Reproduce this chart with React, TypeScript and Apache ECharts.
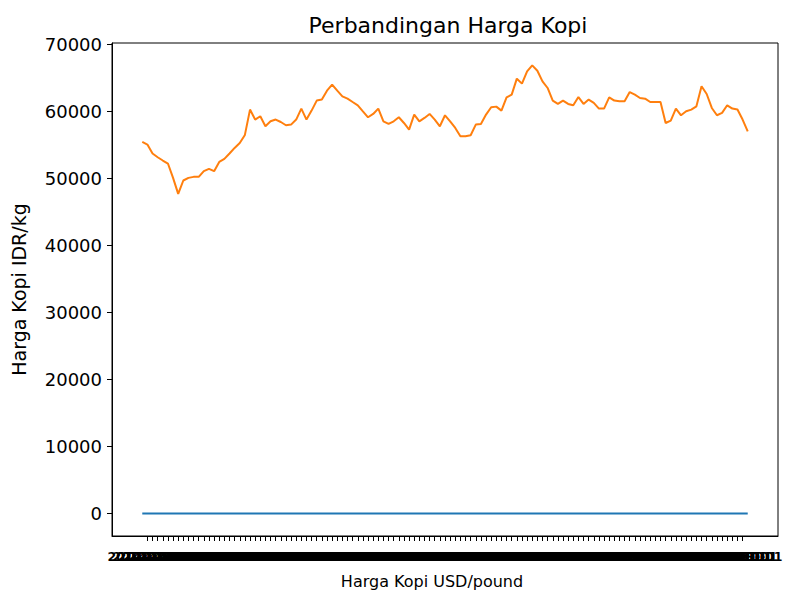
import React, { useEffect, useRef } from "react";
import * as echarts from "echarts";

const titleText = "Perbandingan Harga Kopi";
const xName = "Harga Kopi USD/pound";
const yName = "Harga Kopi IDR/kg";

const idrPerKg: number[] = [
  55450, 55060, 53720, 53170, 52680, 52230, 50090, 47700, 49700, 50090,
  50240, 50240, 51090, 51430, 51090, 52470, 52920, 53720, 54560, 55300,
  56500, 60280, 58790, 59280, 57790, 58530, 58790, 58430, 57940, 58040,
  58790, 60430, 58790, 60130, 61620, 61770, 63100, 64000, 63100, 62260,
  61910, 61410, 60920, 60020, 59130, 59630, 60430, 58530, 58140, 58530,
  59130, 58280, 57290, 59530, 58530, 59030, 59630, 58790, 57790, 59430,
  58530, 57540, 56300, 56300, 56450, 58040, 58140, 59530, 60620, 60720,
  60130, 62110, 62510, 64890, 64150, 65980, 66870, 66080, 64490, 63500,
  61620, 61120, 61620, 61120, 60920, 62150, 61120, 61770, 61270, 60430,
  60430, 62110, 61620, 61510, 61510, 62900, 62510, 62010, 61910, 61410,
  61410, 61410, 58280, 58640, 60430, 59430, 60020, 60280, 60770, 63750,
  62600, 60520, 59430, 59780, 60920, 60430, 60280, 58790, 57040,
];

const usdPerPound: number[] = [
  1.85, 1.84, 1.79, 1.77, 1.76, 1.74, 1.67, 1.59, 1.66, 1.67,
  1.67, 1.67, 1.7, 1.71, 1.7, 1.75, 1.76, 1.79, 1.82, 1.84,
  1.88, 2.01, 1.96, 1.98, 1.93, 1.95, 1.96, 1.95, 1.93, 1.93,
  1.96, 2.01, 1.96, 2.0, 2.05, 2.06, 2.1, 2.13, 2.1, 2.08,
  2.06, 2.05, 2.03, 2.0, 1.97, 1.99, 2.01, 1.95, 1.94, 1.95,
  1.97, 1.94, 1.91, 1.98, 1.95, 1.97, 1.99, 1.96, 1.93, 1.98,
  1.95, 1.92, 1.88, 1.88, 1.88, 1.93, 1.94, 1.98, 2.02, 2.02,
  2.0, 2.07, 2.08, 2.16, 2.14, 2.2, 2.23, 2.2, 2.15, 2.12,
  2.05, 2.04, 2.05, 2.04, 2.03, 2.07, 2.04, 2.06, 2.04, 2.01,
  2.01, 2.07, 2.05, 2.05, 2.05, 2.1, 2.08, 2.07, 2.06, 2.05,
  2.05, 2.05, 1.94, 1.95, 2.01, 1.98, 2.0, 2.01, 2.03, 2.13,
  2.09, 2.02, 1.98, 1.99, 2.03, 2.01, 2.01, 1.96, 1.9,
];

// monthly date tick labels (overlapping in the original)
const dateLabels: string[] = idrPerKg.map((_, i) => {
  const y = 2014 + Math.floor(i / 12);
  const m = (i % 12) + 1;
  return `${y}-${m < 10 ? "0" + m : m}-01`;
});

const yTicks: number[] = [0, 10000, 20000, 30000, 40000, 50000, 60000, 70000];

export default function App() {
  const ref = useRef<HTMLDivElement>(null);
  useEffect(() => {
    document.body.style.margin = "0";
    const chart = echarts.init(ref.current!, null, { renderer: "svg" });
    const n = idrPerKg.length;
    const xPad = (n - 1) * 0.05;
    const yMin = Math.min(...usdPerPound);
    const yMax = Math.max(...idrPerKg);
    const yPad = (yMax - yMin) * 0.05;
    const font = "DejaVu Sans";
    const xIdx = idrPerKg.map((_, i) => i);
    chart.setOption({
      animation: false,
      title: {
        text: titleText,
        left: 443,
        top: 9,
        textAlign: "center",
        textStyle: { fontFamily: font, fontSize: 22, fontWeight: "normal", color: "#000" },
      },
      grid: {
        left: 112,
        right: 8,
        top: 43,
        bottom: 56,
        containLabel: false,
        outerBoundsMode: "none",
        show: true,
        borderColor: "#000",
        borderWidth: 1,
        backgroundColor: "#fff",
      },
      xAxis: {
        type: "value",
        min: -xPad,
        max: n - 1 + xPad,
        name: xName,
        nameLocation: "middle",
        nameGap: 37,
        nameTextStyle: { fontFamily: font, fontSize: 16, color: "#000", padding: [0, 26, 0, 0] },
        splitLine: { show: false },
        axisLine: { show: true, onZero: false, lineStyle: { color: "#000", width: 1 } },
        axisTick: {
          show: true,
          customValues: xIdx,
          length: 5,
          lineStyle: { color: "#000" },
        },
        axisLabel: {
          customValues: xIdx,
          formatter: (v: number) => dateLabels[Math.round(v)] ?? "",
          fontFamily: font,
          fontSize: 12.5,
          fontWeight: "bold",
          color: "#000",
          margin: 14,
          hideOverlap: false,
        },
      },
      yAxis: {
        type: "value",
        min: yMin - yPad,
        max: yMax + yPad,
        name: yName,
        nameLocation: "middle",
        nameGap: 84,
        nameRotate: 90,
        nameTextStyle: { fontFamily: font, fontSize: 19, color: "#000" },
        splitLine: { show: false },
        axisLine: { show: true, onZero: false, lineStyle: { color: "#000", width: 1 } },
        axisTick: { show: true, customValues: yTicks, length: 5, lineStyle: { color: "#000" } },
        axisLabel: {
          customValues: yTicks,
          formatter: (v: number) => String(v),
          fontFamily: font,
          fontSize: 18,
          color: "#000",
          margin: 10,
        },
      },
      series: [
        {
          type: "line",
          data: usdPerPound.map((v, i) => [i, v]),
          showSymbol: false,
          lineStyle: { color: "#1f77b4", width: 2 },
          itemStyle: { color: "#1f77b4" },
        },
        {
          type: "line",
          data: idrPerKg.map((v, i) => [i, v]),
          showSymbol: false,
          lineStyle: { color: "#ff7f0e", width: 2 },
          itemStyle: { color: "#ff7f0e" },
        },
      ],
    });
    return () => chart.dispose();
  }, []);
  return (
    <div
      ref={ref}
      style={{ width: 786, height: 592, position: "absolute", left: 0, top: 0, background: "#fff" }}
    />
  );
}
